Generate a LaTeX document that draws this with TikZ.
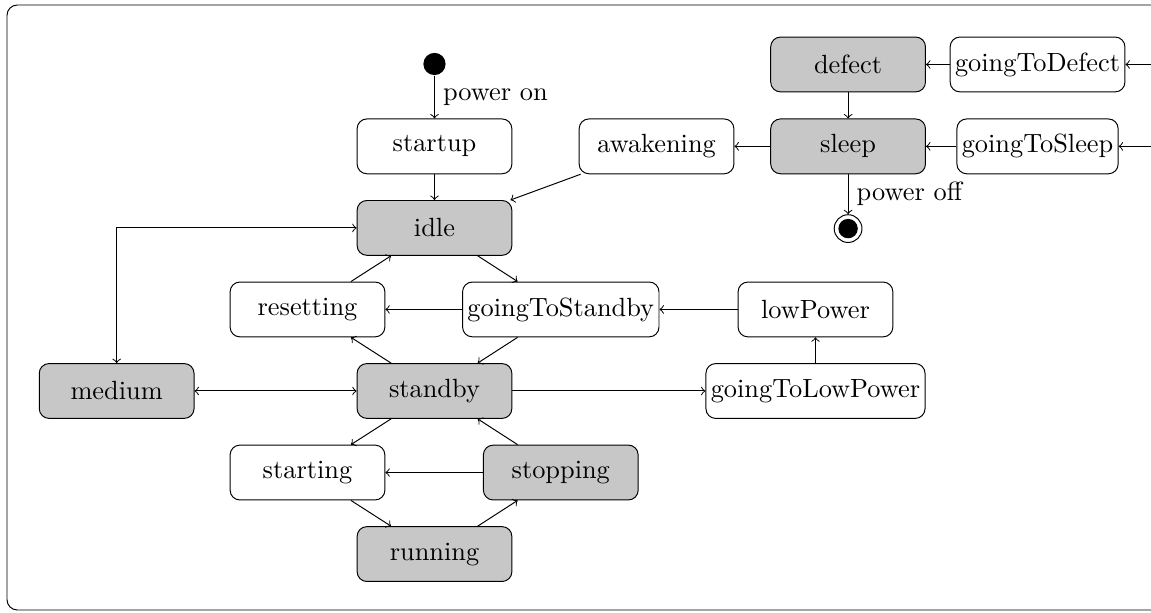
\documentclass[tikz,border=0pt]{standalone}
\tikzset{
  box/.style={draw, rounded corners, minimum width=2.23cm, minimum height=0.79cm, inner sep=2pt},
  graybox/.style={box, fill=black!22},
}

\begin{document}
\begin{tikzpicture}[font=\fontsize{10.8}{13}\selectfont]
  \useasboundingbox (-6.261,-3.185) rectangle (10.325,5.634);
  \draw[rounded corners=0.15cm] (-6.16,-3.156) rectangle (10.8,5.562);
  \node[circle, fill, inner sep=0pt, minimum size=0.32cm] (init) at (0,4.712) {};
  \node[box] (startup) at (0,3.525) {startup};
  \node[graybox] (idle) at (0,2.35) {idle};
  \node[box] (awakening) at (3.2,3.525) {awakening};
  \node[graybox] (defect) at (5.96,4.705) {defect};
  \node[box] (goingToDefect) at (8.69,4.705) {goingToDefect};
  \node[graybox] (sleep) at (5.96,3.525) {sleep};
  \node[box] (goingToSleep) at (8.69,3.525) {goingToSleep};
  \node[circle, draw, inner sep=0pt, minimum size=0.4cm] (final) at (5.96,2.34) {};
  \fill (final.center) circle (0.14cm);
  \node[box] (resetting) at (-1.83,1.175) {resetting};
  \node[box] (goingToStandby) at (1.82,1.175) {goingToStandby};
  \node[box] (lowPower) at (5.49,1.175) {lowPower};
  \node[graybox] (medium) at (-4.58,0) {medium};
  \node[graybox] (standby) at (0,0) {standby};
  \node[box] (goingToLowPower) at (5.49,0) {goingToLowPower};
  \node[box] (starting) at (-1.83,-1.175) {starting};
  \node[graybox] (stopping) at (1.82,-1.175) {stopping};
  \node[graybox] (running) at (0,-2.35) {running};
  \coordinate (toDefect) at (10.6,4.705);
  \coordinate (toSleep) at (10.6,3.525);

  \draw[->] (init) -- node[right] {power on} (startup);
  \draw[->] (startup) -- (idle);
  \draw[->] (awakening) -- (idle);
  \draw[->] (sleep) -- (awakening);
  \draw[->] (defect) -- (sleep);
  \draw[->] (goingToDefect) -- (defect);
  \draw[->] (goingToSleep) -- (sleep);
  \draw[->] (toDefect) -- (goingToDefect);
  \draw[->] (toSleep) -- (goingToSleep);
  \draw[->] (sleep) -- node[right] {power off} (final);
  \draw[<->] (idle) -| (medium);
  \draw[<->] (medium) -- (standby);
  \draw[->] (idle) -- (goingToStandby);
  \draw[->] (resetting) -- (idle);
  \draw[->] (goingToStandby) -- (resetting);
  \draw[->] (standby) -- (resetting);
  \draw[->] (goingToStandby) -- (standby);
  \draw[->] (lowPower) -- (goingToStandby);
  \draw[->] (standby) -- (goingToLowPower);
  \draw[->] (goingToLowPower) -- (lowPower);
  \draw[->] (standby) -- (starting);
  \draw[->] (stopping) -- (standby);
  \draw[->] (stopping) -- (starting);
  \draw[->] (starting) -- (running);
  \draw[->] (running) -- (stopping);
\end{tikzpicture}
\end{document}
